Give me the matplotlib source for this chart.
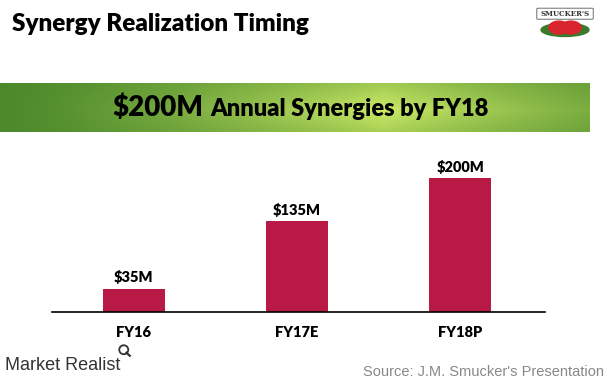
import matplotlib
matplotlib.use('Agg')
import matplotlib.pyplot as plt
import matplotlib.patches as patches
import numpy as np

categories = ['FY16', 'FY17E', 'FY18P']
synergies = [35, 135, 200]
value_labels = ['$35M', '$135M', '$200M']

bar_color = '#B81A45'
heavy = 'heavy'

fig = plt.figure(figsize=(6.09, 3.88), dpi=100)
fig.patch.set_facecolor('white')

# Title
fig.text(12 / 609, 1 - 24 / 388, 'Synergy Realization Timing', fontsize=17.5, fontweight=heavy,
         family='Lato', va='center', ha='left', color='black')

# Green banner with gradient
ban = fig.add_axes([0, 1 - 132 / 388, 590 / 609, 49 / 388])
xs = np.linspace(0, 1, 300)
ys = np.linspace(0, 1, 40)
X, Y = np.meshgrid(xs, ys)
light = np.clip(1 - np.abs(X - 0.65) / 0.65, 0, 1) ** 1.3
light = light * (1 - 0.3 * np.abs(Y - 0.55) * 2)
dark = np.array([0.30, 0.54, 0.17])
bright = np.array([0.80, 0.92, 0.40])
img = dark[None, None, :] + (bright - dark)[None, None, :] * light[:, :, None]
ban.imshow(img, aspect='auto', extent=[0, 1, 0, 1])
ban.set_xlim(0, 1)
ban.set_ylim(0, 1)
ban.axis('off')
split = 203 / 590
ban.text(split, 0.5, '$200M', fontsize=20, fontweight=heavy, family='Lato',
         ha='right', va='center', transform=ban.transAxes)
ban.text(split + 7 / 590, 0.47, 'Annual Synergies by FY18', fontsize=17, fontweight=heavy, family='Lato',
         ha='left', va='center', transform=ban.transAxes)

# Simple logo
logo = fig.add_axes([535 / 609, 1 - 42 / 388, 60 / 609, 38 / 388])
logo.set_xlim(0, 1)
logo.set_ylim(0, 1)
logo.axis('off')
logo.add_patch(patches.Ellipse((0.5, 0.32), 0.8, 0.35, color='#3b7a2a'))
logo.add_patch(patches.Circle((0.4, 0.38), 0.17, color='#d8262e'))
logo.add_patch(patches.Circle((0.6, 0.38), 0.17, color='#d8262e'))
logo.add_patch(patches.FancyBboxPatch((0.05, 0.62), 0.9, 0.25, boxstyle='round,pad=0.02',
                                      fc='white', ec='#555555', lw=0.6))
logo.text(0.5, 0.745, "SMUCKER'S", fontsize=5, fontweight='bold', ha='center', va='center',
          family='DejaVu Serif', color='#333333')

# Bar chart
ax = fig.add_axes([52 / 609, 76 / 388, 493 / 609, 161 / 388])
x = np.arange(len(categories))
ax.bar(x, synergies, width=0.38, color=bar_color)
ax.set_xlim(-0.5, 2.52)
ax.set_ylim(0, 240)
for xi, v, lab in zip(x, synergies, value_labels):
    ax.text(xi, v + 6, lab, ha='center', va='bottom', fontsize=10.5, fontweight=heavy, family='Lato')
ax.set_xticks(x)
ax.set_xticklabels(categories, fontsize=10.5, fontweight=heavy, family='Lato')
ax.tick_params(axis='x', length=0, pad=10)
ax.set_yticks([])
for s in ['top', 'right', 'left']:
    ax.spines[s].set_visible(False)
ax.spines['bottom'].set_linewidth(1.2)
ax.spines['bottom'].set_color('black')

# Footer
fig.text(5 / 609, 1 - 366 / 388, 'Market Realist', fontsize=13, family='Liberation Sans',
         color='#333333', va='center', ha='left')
mag = fig.add_axes([117 / 609, 1 - 358 / 388, 15 / 609, 15 / 388])
mag.set_xlim(0, 1)
mag.set_ylim(0, 1)
mag.axis('off')
mag.add_patch(patches.Circle((0.45, 0.55), 0.3, fill=False, ec='#333333', lw=1.3))
mag.plot([0.63, 0.85], [0.35, 0.15], color='#333333', lw=1.6)
fig.text(604 / 609, 1 - 372 / 388, "Source: J.M. Smucker's Presentation", fontsize=10.5,
         family='Liberation Sans', color='#888888', va='center', ha='right')

fig.savefig('out.png', dpi=100)
